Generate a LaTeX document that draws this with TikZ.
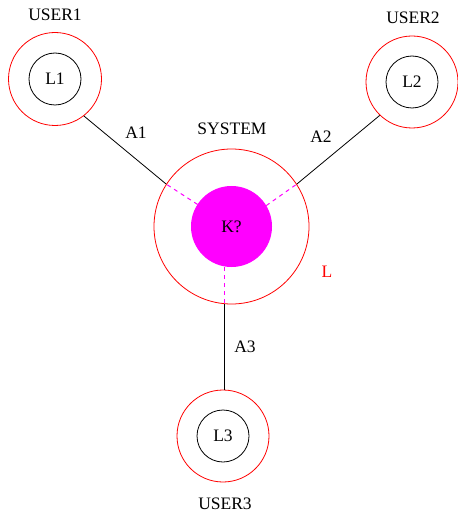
\documentclass[tikz,border=0pt]{standalone}
\usepackage{fontspec}
\setmainfont{Liberation Serif}
\definecolor{mag}{RGB}{255,0,255}
\definecolor{rd}{RGB}{255,0,0}
\begin{document}
\begin{tikzpicture}[x=1pt,y=-1pt,
  every node/.style={font=\fontsize{17.5}{20}\selectfont},
  outerring/.style={circle,draw=rd,line width=0.8pt,inner sep=0pt,minimum size=#1},
  innerring/.style={circle,draw=black,line width=0.8pt,inner sep=0pt,minimum size=52pt},
  lbl/.style={inner sep=0pt},
  link/.style={draw=black,line width=0.8pt},
  dlink/.style={draw=mag,line width=1pt,dash pattern=on 4pt off 4pt}]
\useasboundingbox (0,0) rectangle (457,513);
% users
\node[outerring=93pt] (u1o) at (55,79) {};
\node[innerring] (u1i) at (55,79) {L1};
\node[outerring=92pt] (u2o) at (412,82) {};
\node[innerring] (u2i) at (412,82) {L2};
\node[outerring=92pt] (u3o) at (223,436) {};
\node[innerring] (u3i) at (223,436) {L3};
% system
\node[outerring=155pt] (syso) at (231.5,226.5) {};
\node[circle,fill=mag,draw=mag,line width=1pt,inner sep=0pt,minimum size=80pt] (sysk) at (231.5,226.5) {K?};
% labels
\node[lbl] (t1) at (55,15) {USER1};
\node[lbl] (t2) at (413,18) {USER2};
\node[lbl] (t3) at (225,504) {USER3};
\node[lbl] (ts) at (232,129) {SYSTEM};
\node[lbl,text=rd] (tl) at (327,272) {L};
\node[lbl] (a1) at (136,133) {A1};
\node[lbl] (a2) at (321,137) {A2};
\node[lbl] (a3) at (245,347) {A3};
% connectors
\coordinate (b3) at (syso.265);
\draw[link] (u1o.-52) -- (syso.147);
\draw[link] (u2o.226) -- (syso.33);
\draw[link] (b3) -- (b3 |- u3o.north);
\draw[dlink] (sysk.147) -- (syso.147);
\draw[dlink] (sysk.31) -- (syso.33);
\draw[dlink] (b3 |- sysk.south) -- (b3);
\end{tikzpicture}
\end{document}
